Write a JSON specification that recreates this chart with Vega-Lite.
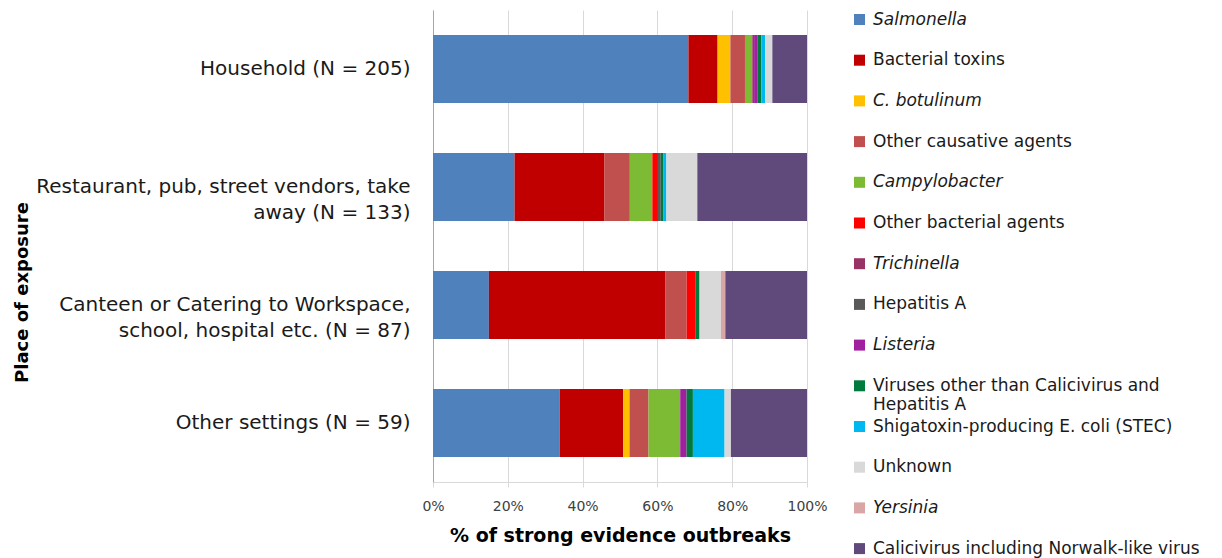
{
  "$schema": "https://vega.github.io/schema/vega-lite/v6.json",
  "autosize": "none",
  "width": 374,
  "height": 472,
  "padding": {"left": 433, "top": 10, "right": 415, "bottom": 76},
  "background": "white",
  "config": {
    "font": "DejaVu Sans",
    "view": {"stroke": null}
  },
  "data": {
    "values": [
      {"place": "Household (N = 205)", "agent": "Salmonella", "n": 140},
      {"place": "Household (N = 205)", "agent": "Bacterial toxins", "n": 16},
      {"place": "Household (N = 205)", "agent": "C. botulinum", "n": 7},
      {"place": "Household (N = 205)", "agent": "Other causative agents", "n": 8},
      {"place": "Household (N = 205)", "agent": "Campylobacter", "n": 4},
      {"place": "Household (N = 205)", "agent": "Trichinella", "n": 1},
      {"place": "Household (N = 205)", "agent": "Listeria", "n": 2},
      {"place": "Household (N = 205)", "agent": "Viruses other than Calicivirus and Hepatitis A", "n": 2},
      {"place": "Household (N = 205)", "agent": "Shigatoxin-producing E. coli (STEC)", "n": 2},
      {"place": "Household (N = 205)", "agent": "Unknown", "n": 4},
      {"place": "Household (N = 205)", "agent": "Calicivirus including Norwalk-like virus", "n": 19},

      {"place": "Restaurant, pub, street vendors, take away  (N = 133)", "agent": "Salmonella", "n": 29},
      {"place": "Restaurant, pub, street vendors, take away  (N = 133)", "agent": "Bacterial toxins", "n": 32},
      {"place": "Restaurant, pub, street vendors, take away  (N = 133)", "agent": "Other causative agents", "n": 9},
      {"place": "Restaurant, pub, street vendors, take away  (N = 133)", "agent": "Campylobacter", "n": 8},
      {"place": "Restaurant, pub, street vendors, take away  (N = 133)", "agent": "Other bacterial agents", "n": 2},
      {"place": "Restaurant, pub, street vendors, take away  (N = 133)", "agent": "Hepatitis A", "n": 1},
      {"place": "Restaurant, pub, street vendors, take away  (N = 133)", "agent": "Viruses other than Calicivirus and Hepatitis A", "n": 1},
      {"place": "Restaurant, pub, street vendors, take away  (N = 133)", "agent": "Shigatoxin-producing E. coli (STEC)", "n": 1},
      {"place": "Restaurant, pub, street vendors, take away  (N = 133)", "agent": "Unknown", "n": 11},
      {"place": "Restaurant, pub, street vendors, take away  (N = 133)", "agent": "Calicivirus including Norwalk-like virus", "n": 39},

      {"place": "Canteen or Catering to Workspace, school, hospital etc. (N = 87)", "agent": "Salmonella", "n": 13},
      {"place": "Canteen or Catering to Workspace, school, hospital etc. (N = 87)", "agent": "Bacterial toxins", "n": 41},
      {"place": "Canteen or Catering to Workspace, school, hospital etc. (N = 87)", "agent": "Other causative agents", "n": 5},
      {"place": "Canteen or Catering to Workspace, school, hospital etc. (N = 87)", "agent": "Other bacterial agents", "n": 2},
      {"place": "Canteen or Catering to Workspace, school, hospital etc. (N = 87)", "agent": "Viruses other than Calicivirus and Hepatitis A", "n": 1},
      {"place": "Canteen or Catering to Workspace, school, hospital etc. (N = 87)", "agent": "Unknown", "n": 5},
      {"place": "Canteen or Catering to Workspace, school, hospital etc. (N = 87)", "agent": "Yersinia", "n": 1},
      {"place": "Canteen or Catering to Workspace, school, hospital etc. (N = 87)", "agent": "Calicivirus including Norwalk-like virus", "n": 19},

      {"place": "Other settings (N = 59)", "agent": "Salmonella", "n": 20},
      {"place": "Other settings (N = 59)", "agent": "Bacterial toxins", "n": 10},
      {"place": "Other settings (N = 59)", "agent": "C. botulinum", "n": 1},
      {"place": "Other settings (N = 59)", "agent": "Other causative agents", "n": 3},
      {"place": "Other settings (N = 59)", "agent": "Campylobacter", "n": 5},
      {"place": "Other settings (N = 59)", "agent": "Listeria", "n": 1},
      {"place": "Other settings (N = 59)", "agent": "Viruses other than Calicivirus and Hepatitis A", "n": 1},
      {"place": "Other settings (N = 59)", "agent": "Shigatoxin-producing E. coli (STEC)", "n": 5},
      {"place": "Other settings (N = 59)", "agent": "Unknown", "n": 1},
      {"place": "Other settings (N = 59)", "agent": "Calicivirus including Norwalk-like virus", "n": 12}
    ]
  },
  "transform": [
    {"calculate": "indexof(['Salmonella','Bacterial toxins','C. botulinum','Other causative agents','Campylobacter','Other bacterial agents','Trichinella','Hepatitis A','Listeria','Viruses other than Calicivirus and Hepatitis A','Shigatoxin-producing E. coli (STEC)','Unknown','Yersinia','Calicivirus including Norwalk-like virus'], datum.agent)", "as": "k"}
  ],
  "mark": {"type": "bar"},
  "encoding": {
    "y": {
      "field": "place",
      "type": "nominal",
      "sort": ["Household (N = 205)", "Restaurant, pub, street vendors, take away  (N = 133)", "Canteen or Catering to Workspace, school, hospital etc. (N = 87)", "Other settings (N = 59)"],
      "scale": {"paddingInner": 0.424, "paddingOuter": 0.212},
      "axis": {
        "title": "Place of exposure",
        "titleFont": "DejaVu Sans",
        "titleFontSize": 18,
        "titleFontWeight": "bold",
        "titleColor": "#000000",
        "titleX": -411,
        "titleY": 282,
        "titleAngle": -90,
        "titleAlign": "center",
        "titleBaseline": "middle",
        "labelFontSize": 20,
        "labelColor": "#1a1a1a",
        "labelLimit": 420,
        "labelPadding": 23,
        "labelLineHeight": 26,
        "labelExpr": "datum.value == 'Restaurant, pub, street vendors, take away  (N = 133)' ? ['Restaurant, pub, street vendors, take', 'away  (N = 133)'] : datum.value == 'Canteen or Catering to Workspace, school, hospital etc. (N = 87)' ? ['Canteen or Catering to Workspace,', 'school, hospital etc. (N = 87)'] : datum.value",
        "ticks": false,
        "domainColor": "#A6A6A6",
        "grid": false
      }
    },
    "x": {
      "field": "n",
      "type": "quantitative",
      "stack": "normalize",
      "scale": {"domain": [0, 1]},
      "axis": {
        "title": "% of strong evidence outbreaks",
        "titleFontSize": 19,
        "titleFontWeight": "bold",
        "titleColor": "#000000",
        "titlePadding": 13,
        "values": [0, 0.2, 0.4, 0.6, 0.8, 1],
        "format": ".0%",
        "labelFontSize": 14,
        "labelColor": "#404040",
        "labelPadding": 12,
        "tickSize": 5,
        "tickColor": "#D9D9D9",
        "domainColor": "#D9D9D9",
        "gridColor": "#D9D9D9",
        "labelFlush": false
      }
    },
    "order": {"field": "k", "type": "quantitative"},
    "color": {
      "field": "agent",
      "type": "nominal",
      "scale": {
        "domain": ["Salmonella", "Bacterial toxins", "C. botulinum", "Other causative agents", "Campylobacter", "Other bacterial agents", "Trichinella", "Hepatitis A", "Listeria", "Viruses other than Calicivirus and Hepatitis A", "Shigatoxin-producing E. coli (STEC)", "Unknown", "Yersinia", "Calicivirus including Norwalk-like virus"],
        "range": ["#4F81BD", "#C00000", "#FFC000", "#C0504D", "#7DBB35", "#FF0000", "#993366", "#595959", "#A020A0", "#007A3D", "#00B8F0", "#D9D9D9", "#D9A5A5", "#604A7B"]
      },
      "legend": {
        "title": null,
        "orient": "none",
        "legendX": 418,
        "legendY": 1,
        "padding": 0,
        "gridAlign": "all",
        "symbolType": "square",
        "symbolSize": 121,
        "symbolStrokeWidth": 0,
        "labelFontSize": 17,
        "labelColor": "#1a1a1a",
        "labelOffset": 5,
        "labelLimit": 400,
        "rowPadding": 3.7,
        "labelExpr": "datum.label == 'Viruses other than Calicivirus and Hepatitis A' ? ['Viruses other than Calicivirus and', 'Hepatitis A'] : datum.label",
        "encode": {
          "labels": {
            "update": {
              "fontStyle": {"signal": "indexof(['Salmonella','C. botulinum','Campylobacter','Trichinella','Listeria','Yersinia'], datum.value) >= 0 ? 'italic' : 'normal'"}
            }
          }
        }
      }
    }
  }
}
